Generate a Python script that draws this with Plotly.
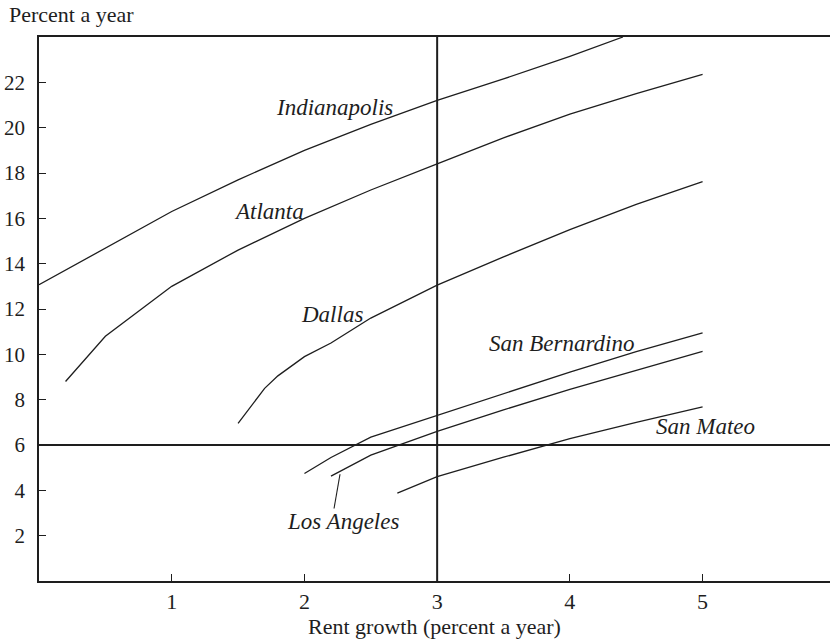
import plotly.graph_objects as go

# Required return vs. expected rent growth, by metro area (percent a year)
indianapolis_x = [0.0, 0.5, 1.0, 1.5, 2.0, 2.5, 3.0, 3.5, 4.0, 4.4]
indianapolis_y = [13.07, 14.7, 16.3, 17.7, 19.0, 20.15, 21.2, 22.15, 23.15, 24.0]

atlanta_x = [0.2, 0.5, 1.0, 1.5, 2.0, 2.5, 3.0, 3.5, 4.0, 4.5, 5.0]
atlanta_y = [8.8, 10.8, 13.0, 14.6, 16.0, 17.25, 18.4, 19.55, 20.6, 21.5, 22.35]

dallas_x = [1.5, 1.7, 1.8, 2.0, 2.2, 2.5, 3.0, 3.5, 4.0, 4.5, 5.0]
dallas_y = [6.95, 8.5, 9.05, 9.9, 10.5, 11.6, 13.05, 14.3, 15.5, 16.62, 17.62]

san_bernardino_x = [2.0, 2.2, 2.5, 3.0, 3.5, 4.0, 4.5, 5.0]
san_bernardino_y = [4.74, 5.45, 6.35, 7.3, 8.25, 9.22, 10.12, 10.95]

los_angeles_x = [2.2, 2.5, 3.0, 3.5, 4.0, 4.5, 5.0]
los_angeles_y = [4.63, 5.55, 6.6, 7.55, 8.45, 9.3, 10.13]

san_mateo_x = [2.7, 3.0, 3.5, 4.0, 4.5, 5.0]
san_mateo_y = [3.88, 4.6, 5.46, 6.28, 7.0, 7.68]

series = [
    ("Indianapolis", indianapolis_x, indianapolis_y),
    ("Atlanta", atlanta_x, atlanta_y),
    ("Dallas", dallas_x, dallas_y),
    ("San Bernardino", san_bernardino_x, san_bernardino_y),
    ("Los Angeles", los_angeles_x, los_angeles_y),
    ("San Mateo", san_mateo_x, san_mateo_y),
]

# Curve labels: (text, x, y)
curve_labels = [
    ("Indianapolis", 2.23, 20.87),
    ("Atlanta", 1.73, 16.3),
    ("Dallas", 2.21, 11.75),
    ("San Bernardino", 3.94, 10.49),
    ("San Mateo", 5.02, 6.81),
    ("Los Angeles", 2.29, 2.63),
]

# Leader from the Los Angeles label to its curve
la_leader_x = [2.268, 2.223]
la_leader_y = [4.71, 3.20]

# Reference levels
ref_growth = 3
ref_return = 6

x_ticks = [1, 2, 3, 4, 5]
y_ticks = [2, 4, 6, 8, 10, 12, 14, 16, 18, 20, 22]

INK = "#1e1e1e"
SERIF = "Liberation Serif, Times New Roman, serif"

fig = go.Figure()

for name, xs, ys in series:
    fig.add_trace(go.Scatter(
        x=xs, y=ys, mode="lines", name=name,
        line=dict(color=INK, width=1.3),
        showlegend=False, hoverinfo="skip",
    ))

fig.add_trace(go.Scatter(
    x=la_leader_x, y=la_leader_y, mode="lines",
    line=dict(color=INK, width=1.1),
    showlegend=False, hoverinfo="skip",
))

fig.add_hline(y=ref_return, line=dict(color=INK, width=2))
fig.add_vline(x=ref_growth, line=dict(color=INK, width=2))

for text, lx, ly in curve_labels:
    fig.add_annotation(
        x=lx, y=ly, text=text, showarrow=False,
        font=dict(family=SERIF, size=23, color=INK, style="italic"),
        xanchor="center", yanchor="middle",
    )

fig.add_annotation(
    x=0, y=1, xref="paper", yref="paper", xshift=-32, yshift=23,
    text="Percent a year", showarrow=False,
    font=dict(family=SERIF, size=22, color=INK),
    xanchor="left", yanchor="middle",
)

fig.update_layout(
    width=830, height=642,
    margin=dict(l=39, r=0, t=37, b=61),
    paper_bgcolor="white", plot_bgcolor="white",
    font=dict(family=SERIF, size=22, color=INK),
    xaxis=dict(
        range=[0, 5.96], tickvals=x_ticks,
        ticks="inside", ticklen=7, tickwidth=1, tickcolor=INK,
        tickfont=dict(family=SERIF, size=22, color=INK),
        showgrid=False, zeroline=False,
        showline=True, linecolor=INK, linewidth=1.5, mirror=True,
        title=dict(text="Rent growth (percent a year)", standoff=3,
                   font=dict(family=SERIF, size=22, color=INK)),
    ),
    yaxis=dict(
        range=[0, 24], tickvals=y_ticks,
        ticks="inside", ticklen=7, tickwidth=1, tickcolor=INK,
        tickfont=dict(family=SERIF, size=21, color=INK),
        ticklabelstandoff=8,
        showgrid=False, zeroline=False,
        showline=True, linecolor=INK, linewidth=1.5,
    ),
)

fig.write_html("out.html")
